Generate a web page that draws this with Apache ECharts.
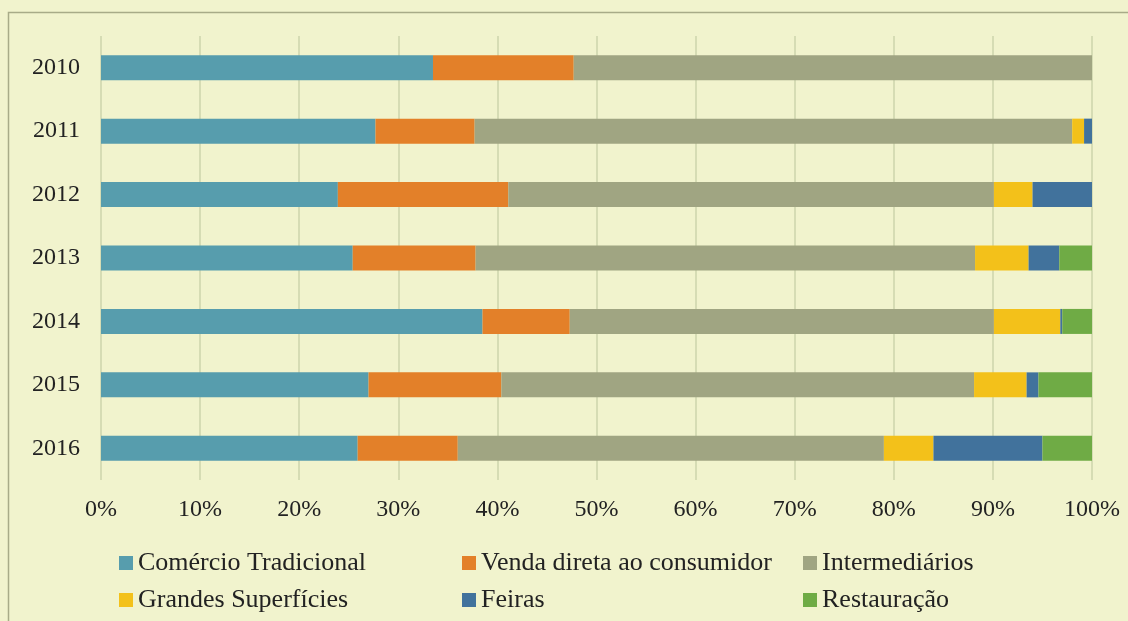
<!DOCTYPE html>
<html style="height: 100%">
   <head>
       <meta charset="utf-8">
   </head>
   <body style="height: 100%; margin: 0; background: #f1f3cd">
       <div id="container" style="height: 100%"></div>
       <script type="text/javascript" src="https://cdn.jsdelivr.net/npm/echarts@6/dist/echarts.min.js"></script>
       <script type="text/javascript">
var years = ['2010', '2011', '2012', '2013', '2014', '2015', '2016'];
var comercio = [33.5, 27.7, 23.9, 25.4, 38.5, 27.0, 25.9];
var venda = [14.2, 10.0, 17.2, 12.4, 8.8, 13.4, 10.1];
var intermediarios = [52.3, 60.3, 49.0, 50.4, 42.8, 47.7, 43.0];
var grandes = [0, 1.2, 3.9, 5.4, 6.7, 5.3, 5.0];
var feiras = [0, 0.8, 6.0, 3.1, 0.2, 1.2, 11.0];
var restauracao = [0, 0, 0, 3.3, 3.0, 5.4, 5.0];

var font = '"Liberation Serif", "DejaVu Serif", serif';
var dom = document.getElementById("container");
var myChart = echarts.init(dom);

function bar(name, data, color) {
    return {
        name: name,
        type: 'bar',
        stack: 'total',
        barWidth: 25,
        data: data,
        itemStyle: {color: color},
        emphasis: {disabled: true}
    };
}

function legendCol(left, names) {
    return {
        orient: 'vertical',
        left: left,
        top: 550,
        height: 120,
        width: 330,
        padding: 0,
        itemWidth: 14,
        itemHeight: 14,
        itemGap: 11,
        icon: 'rect',
        data: names,
        textStyle: {fontFamily: font, fontSize: 26, color: '#222', lineHeight: 24}
    };
}

var option = {
    backgroundColor: '#f1f3cd',
    animation: false,
    graphic: [{
        type: 'rect',
        left: 6, top: 10,
        shape: {width: 1140, height: 640},
        style: {fill: 'none', stroke: '#a8ab88', lineWidth: 1.5},
        silent: true
    }],
    grid: {left: 101, right: 36, top: 36, bottom: 141},
    legend: [
        legendCol(119, ['Comércio Tradicional', 'Grandes Superfícies']),
        legendCol(462, ['Venda direta ao consumidor', 'Feiras']),
        legendCol(803, ['Intermediários', 'Restauração'])
    ],
    xAxis: {
        type: 'value',
        min: 0, max: 100, interval: 10,
        axisLine: {show: false},
        axisTick: {show: false},
        axisLabel: {formatter: '{value}%', fontFamily: font, fontSize: 24, color: '#222', margin: 18},
        splitLine: {lineStyle: {color: '#ccd5ab', width: 1.5}}
    },
    yAxis: {
        type: 'category',
        data: years,
        inverse: true,
        axisLine: {show: false},
        axisTick: {show: false},
        axisLabel: {fontFamily: font, fontSize: 24, color: '#222', margin: 21}
    },
    series: [
        bar('Comércio Tradicional', comercio, '#579dad'),
        bar('Venda direta ao consumidor', venda, '#e38029'),
        bar('Intermediários', intermediarios, '#a0a582'),
        bar('Grandes Superfícies', grandes, '#f3c11a'),
        bar('Feiras', feiras, '#41729c'),
        bar('Restauração', restauracao, '#6fab45')
    ]
};
myChart.setOption(option);
       </script>
   </body>
</html>
